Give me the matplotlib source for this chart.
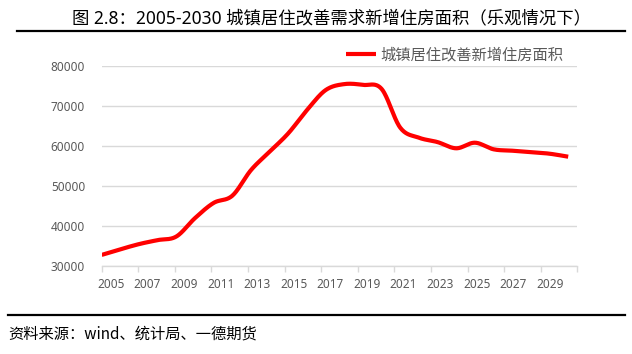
import numpy as np
import matplotlib
matplotlib.use("Agg")
import matplotlib.pyplot as plt
from matplotlib.lines import Line2D

# ---------------- data ----------------
years = list(range(2005, 2031))
area = [32700, 34100, 35400, 36400, 37300, 41900, 45700, 47500, 53900, 58500,
        63100, 68900, 73900, 75400, 75200, 74200, 64500, 62000, 60900, 59350,
        60750, 59100, 58750, 58400, 58000, 57250]
series_name = "城镇居住改善新增住房面积"
title = "图 2.8：2005-2030 城镇居住改善需求新增住房面积（乐观情况下）"
source = "资料来源：wind、统计局、一德期货"
y_ticks = [30000, 40000, 50000, 60000, 70000, 80000]

W, H = 632, 354
GRAY = "#595959"
GRID = "#d9d9d9"


def smooth(x, y, n=30):
    """Excel-like smoothed line: cubic bezier through every point"""
    x = np.asarray(x, float)
    y = np.asarray(y, float)
    px = np.concatenate([[x[0]], x, [x[-1]]])
    py = np.concatenate([[y[0]], y, [y[-1]]])
    xs, ys = [], []
    t = np.linspace(0, 1, n)
    for i in range(1, len(px) - 2):
        p0 = np.array([px[i], py[i]])
        p3 = np.array([px[i + 1], py[i + 1]])
        p1 = p0 + (np.array([px[i + 1], py[i + 1]]) - np.array([px[i - 1], py[i - 1]])) / 6
        p2 = p3 - (np.array([px[i + 2], py[i + 2]]) - np.array([px[i], py[i]])) / 6
        b = ((1 - t) ** 3)[:, None] * p0 + (3 * (1 - t) ** 2 * t)[:, None] * p1 \
            + (3 * (1 - t) * t ** 2)[:, None] * p2 + (t ** 3)[:, None] * p3
        xs.append(b[:, 0])
        ys.append(b[:, 1])
    return np.concatenate(xs), np.concatenate(ys)


fig = plt.figure(figsize=(W / 100, H / 100), dpi=100)

# plot area in pixels: x 101.7 -> 577.3, y 65.7 -> 265.7
ax = fig.add_axes([101.7 / W, 1 - 265.7 / H, 475.6 / W, 200 / H])

sx, sy = smooth(years, area)
ax.plot(sx, sy, color="#ff0000", lw=3, solid_capstyle="butt", label=series_name, zorder=3)

# x axis behaves like a category axis: 26 categories, tick every two
x0 = years[0]
x1 = x0 + 475.6 / 18.66
ax.set_xlim(x0, x1)
cat = (x1 - x0) / len(years)
ax.set_xticks([x0 + cat * i for i in range(0, len(years) + 1, 2)])
ax.set_xticklabels([])
ax.set_xticks([x0 + cat * (i + 0.5) for i in range(0, len(years), 2)], minor=True)
ax.set_xticklabels([str(y) for y in years[::2]], minor=True)
ax.tick_params(axis="x", which="major", length=4, color=GRID, width=1)
ax.tick_params(axis="x", which="minor", length=0, pad=9, labelsize=8.5, labelcolor=GRAY)

ax.set_ylim(30000, 80000)
ax.set_yticks(y_ticks)
ax.tick_params(axis="y", length=0, pad=12, labelsize=8.5, labelcolor=GRAY)
for lab in ax.get_xticklabels(minor=True) + ax.get_yticklabels():
    lab.set_family(["Noto Sans", "DejaVu Sans"])

ax.grid(axis="y", color=GRID, lw=1)
ax.set_axisbelow(True)
for s in ["top", "right", "left"]:
    ax.spines[s].set_visible(False)
ax.spines["bottom"].set_color(GRID)
ax.spines["bottom"].set_linewidth(1)

leg = ax.legend(loc="center right", bbox_to_anchor=(563 / W, 1 - 55 / H),
                bbox_transform=fig.transFigure, frameon=False, borderpad=0,
                borderaxespad=0, handlelength=2.0, handletextpad=0.25,
                prop={"family": ["Noto Sans CJK SC"], "size": 11})
for t in leg.get_texts():
    t.set_color(GRAY)

# title, rules and source
fig.text(332 / W, 1 - 18 / H, title, ha="center", va="center", fontsize=12.5,
         family=["Noto Sans", "Noto Sans CJK SC"], color="black")
fig.add_artist(Line2D([17 / W, 625 / W], [1 - 31 / H, 1 - 31 / H],
                      transform=fig.transFigure, color="black", lw=1.6))
fig.add_artist(Line2D([8 / W, 625 / W], [1 - 315 / H, 1 - 315 / H],
                      transform=fig.transFigure, color="black", lw=1.6))
fig.text(8 / W, 1 - 334 / H, source, ha="left", va="center", fontsize=11,
         family=["Noto Sans CJK SC", "DejaVu Sans"], color="black")

fig.savefig("out.png", dpi=100)
